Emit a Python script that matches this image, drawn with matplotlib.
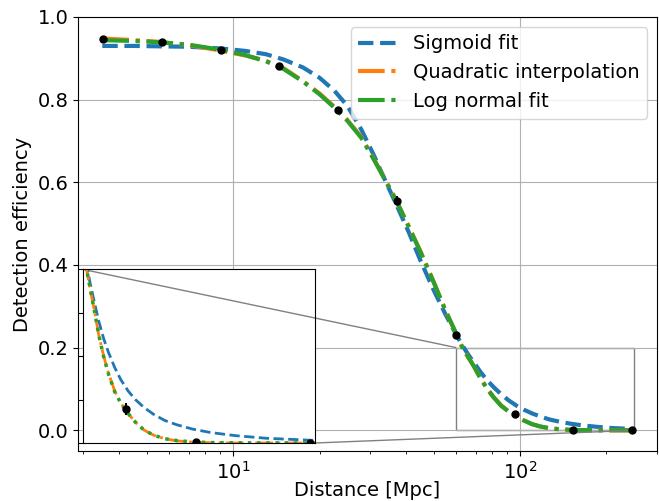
import matplotlib
matplotlib.use('Agg')
import matplotlib.pyplot as plt
from mpl_toolkits.axes_grid1.inset_locator import mark_inset

plt.rcParams['font.size'] = 14

# measured detection efficiency
dist = [3.52, 5.64, 9.05, 14.5, 23.2, 37.2, 59.7, 95.6, 153, 246]
eff = [0.947, 0.939, 0.920, 0.881, 0.774, 0.556, 0.231, 0.039, 0.001, 0.0]
eff_err = [0.003, 0.004, 0.005, 0.006, 0.009, 0.010, 0.008, 0.007, 0.002, 0.001]

# curves
curve_dist = [3.5, 4.5, 5.5, 7, 9, 11, 13, 15, 17.5, 20, 22.5, 25, 28, 31, 34, 37,
              41, 45, 50, 55, 60, 63, 66, 69, 73, 77, 81, 86, 91, 97, 103, 110,
              118, 127, 137, 150, 165, 185, 210, 250]
sigmoid = [0.930, 0.930, 0.929, 0.928, 0.924, 0.918, 0.910, 0.897, 0.878, 0.853,
           0.822, 0.785, 0.727, 0.664, 0.602, 0.547, 0.478, 0.410, 0.339, 0.280,
           0.230, 0.205, 0.183, 0.164, 0.140, 0.120, 0.104, 0.087, 0.073, 0.060,
           0.050, 0.041, 0.033, 0.026, 0.021, 0.016, 0.012, 0.0085, 0.0055, 0.003]
quadratic = [0.948, 0.944, 0.940, 0.932, 0.919, 0.907, 0.894, 0.876, 0.845, 0.815,
             0.783, 0.751, 0.709, 0.655, 0.604, 0.557, 0.492, 0.432, 0.359, 0.289,
             0.232, 0.199, 0.176, 0.155, 0.124, 0.100, 0.080, 0.060, 0.046, 0.034,
             0.024, 0.015, 0.009, 0.005, 0.0025, 0.001, 0.0003, 0.0, 0.0, 0.0]
lognorm = [0.944, 0.942, 0.939, 0.933, 0.921, 0.908, 0.893, 0.874, 0.844, 0.813,
           0.781, 0.749, 0.707, 0.654, 0.603, 0.556, 0.491, 0.431, 0.358, 0.289,
           0.233, 0.200, 0.177, 0.155, 0.124, 0.099, 0.079, 0.059, 0.046, 0.034,
           0.024, 0.015, 0.009, 0.005, 0.0028, 0.0013, 0.0005, 0.0002, 0.0001, 0.0]

fig = plt.figure(figsize=(6.59, 5.01), dpi=100)
ax = fig.add_axes([0.1184, 0.0998, 0.8786, 0.8663])

ax.plot(curve_dist, sigmoid, '--', color='C0', lw=3, label='Sigmoid fit')
ax.plot(curve_dist, quadratic, '-.', color='C1', lw=3, label='Quadratic interpolation')
ax.plot(curve_dist, lognorm, '-.', color='C2', lw=3, label='Log normal fit')
ax.errorbar(dist, eff, yerr=eff_err, fmt='o', color='k', ms=5, zorder=5)

ax.set_xscale('log')
ax.set_xlim(2.88, 300)
ax.set_ylim(-0.05, 1.0)
ax.set_xlabel('Distance [Mpc]', labelpad=-1.5)
ax.set_ylabel('Detection efficiency')
ax.grid()
ax.legend(loc='upper right')

# zoom on the tail
axins = ax.inset_axes([0.0086, 0.0184, 0.4, 0.4])
axins.plot(curve_dist, sigmoid, '--', color='C0', lw=2)
axins.plot(curve_dist, quadratic, '-.', color='C1', lw=2)
axins.plot(curve_dist, lognorm, ':', color='C2', lw=2.5)
axins.errorbar(dist, eff, yerr=eff_err, fmt='o', color='k', ms=5, zorder=5)
axins.set_xlim(60, 250)
axins.set_ylim(0, 0.2)
axins.set_xticks([])
axins.set_yticks([0, 0.05, 0.1, 0.15, 0.2])
axins.set_yticklabels([])
mark_inset(ax, axins, loc1=2, loc2=4, fc='none', ec='0.5')

fig.savefig('out.png', dpi=100)
